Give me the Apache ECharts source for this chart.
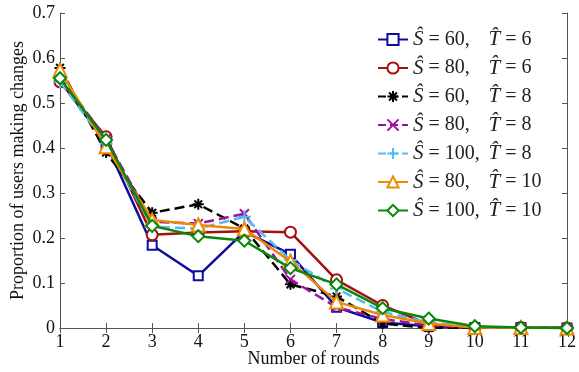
<!DOCTYPE html>
<html>
<head>
<meta charset="utf-8">
<script src="https://cdn.jsdelivr.net/npm/echarts@6/dist/echarts.min.js"></script>
<style>
  html, body { margin: 0; padding: 0; background: #fff; }
  #chart { width: 579px; height: 372px; }
</style>
</head>
<body>
<div id="chart"></div>
<script>
  // rounds on the x axis
  var rounds = [1, 2, 3, 4, 5, 6, 7, 8, 9, 10, 11, 12];

  // series parameters (S hat, T hat)
  var sHat = [60, 80, 60, 80, 100, 80, 100];
  var tHat = [6, 6, 8, 8, 8, 10, 10];

  // proportion of users making changes, one array per series
  var s60t6  = [0.551, 0.410, 0.184, 0.116, 0.214, 0.164, 0.046, 0.012, 0.004, 0.001, 0.001, 0];
  var s80t6  = [0.547, 0.425, 0.207, 0.212, 0.215, 0.213, 0.107, 0.050, 0.008, 0.001, 0.001, 0];
  var s60t8  = [0.578, 0.390, 0.256, 0.275, 0.221, 0.097, 0.070, 0.010, 0.000, 0.001, 0.001, 0];
  var s80t8  = [0.560, 0.420, 0.236, 0.232, 0.254, 0.108, 0.046, 0.020, 0.006, 0.001, 0.001, 0];
  var s100t8 = [0.547, 0.410, 0.225, 0.221, 0.247, 0.151, 0.088, 0.036, 0.012, 0.002, 0.001, 0];
  var s80t10 = [0.573, 0.403, 0.240, 0.229, 0.220, 0.148, 0.058, 0.029, 0.010, 0.001, 0.001, 0];
  var s100t10= [0.555, 0.418, 0.227, 0.204, 0.194, 0.133, 0.097, 0.044, 0.021, 0.004, 0.001, 0];

  var allData = [s60t6, s80t6, s60t8, s80t8, s100t8, s80t10, s100t10];
  var colors = ['#0c0ca0', '#a41010', '#000000', '#a010a0', '#55bbee', '#ee8a00', '#0a870a'];
  var lineTypes = ['solid', 'solid', 'dashed', 'dashed', 'dashed', 'solid', 'solid'];
  var symbols = [
    'emptyRect',
    'emptyCircle',
    'path://M5,0L5,10M0,5L10,5M1.5,1.5L8.5,8.5M8.5,1.5L1.5,8.5',
    'path://M0,0L10,10M10,0L0,10',
    'path://M5,0L5,10M0,5L10,5',
    'emptyTriangle',
    'emptyDiamond'
  ];
  var symbolSizes = [9, 11, 11, 9, 13, 13, 12];

  var serif = '"Liberation Serif", "DejaVu Serif", serif';

  var names = sHat.map(function (s, i) {
    return 'S' + s + 'T' + tHat[i];
  });

  var series = allData.map(function (vals, i) {
    return {
      name: names[i],
      type: 'line',
      data: rounds.map(function (r, j) { return [r, vals[j]]; }),
      symbol: symbols[i],
      symbolSize: symbolSizes[i],
      showAllSymbol: true,
      lineStyle: { color: colors[i], width: 2.5, type: lineTypes[i] },
      itemStyle: { color: colors[i], borderColor: colors[i], borderWidth: 2 },
      z: 2 + i,
      animation: false
    };
  });

  var chart = echarts.init(document.getElementById('chart'));
  var axisLineColor = '#555';

  chart.setOption({
    animation: false,
    grid: { left: 60, right: 12, top: 13, bottom: 44, outerBoundsMode: 'none', containLabel: false },
    legend: {
      orient: 'vertical',
      left: 372,
      top: 24,
      itemWidth: 30,
      itemHeight: 14,
      itemGap: 7.5,
      data: names,
      formatter: function (name) {
        var i = names.indexOf(name);
        return '{s|S\u0302}{a| = ' + sHat[i] + ',}{s|T\u0302}{a| = ' + tHat[i] + '}';
      },
      textStyle: {
        fontFamily: serif,
        fontSize: 20,
        color: '#222',
        rich: {
          s: { fontFamily: serif, fontStyle: 'italic', fontSize: 21, color: '#222', lineHeight: 20 },
          a: { fontFamily: serif, fontSize: 20, color: '#222', lineHeight: 20, width: 65 }
        }
      }
    },
    xAxis: [{
      type: 'value',
      min: 1, max: 12, interval: 1,
      name: 'Number of rounds',
      nameLocation: 'middle',
      nameMoveOverlap: false,
      nameGap: 22,
      nameTextStyle: { fontFamily: serif, fontSize: 18, color: '#111', verticalAlign: 'top' },
      axisLine: { lineStyle: { color: axisLineColor, width: 1 } },
      axisTick: { inside: true, length: 5, lineStyle: { color: axisLineColor } },
      axisLabel: { fontFamily: serif, fontSize: 18, color: '#111', margin: 5 },
      splitLine: { show: false }
    }, {
      type: 'value',
      position: 'top',
      min: 1, max: 12, interval: 1,
      axisLine: { show: true, lineStyle: { color: axisLineColor, width: 1 } },
      axisTick: { inside: true, length: 5, lineStyle: { color: axisLineColor } },
      axisLabel: { show: false },
      splitLine: { show: false }
    }],
    yAxis: [{
      type: 'value',
      min: 0, max: 0.7, interval: 0.1,
      name: 'Proportion of users making changes',
      nameLocation: 'middle',
      nameMoveOverlap: false,
      nameGap: 33,
      nameTextStyle: { fontFamily: serif, fontSize: 18, color: '#111' },
      axisLine: { show: true, lineStyle: { color: axisLineColor, width: 1 } },
      axisTick: { show: true, inside: true, length: 5, lineStyle: { color: axisLineColor } },
      axisLabel: { fontFamily: serif, fontSize: 18, color: '#111', margin: 5 },
      splitLine: { show: false }
    }, {
      type: 'value',
      position: 'right',
      min: 0, max: 0.7, interval: 0.1,
      axisLine: { show: true, lineStyle: { color: axisLineColor, width: 1 } },
      axisTick: { show: true, inside: true, length: 5, lineStyle: { color: axisLineColor } },
      axisLabel: { show: false },
      splitLine: { show: false }
    }],
    series: series
  });
</script>
</body>
</html>
